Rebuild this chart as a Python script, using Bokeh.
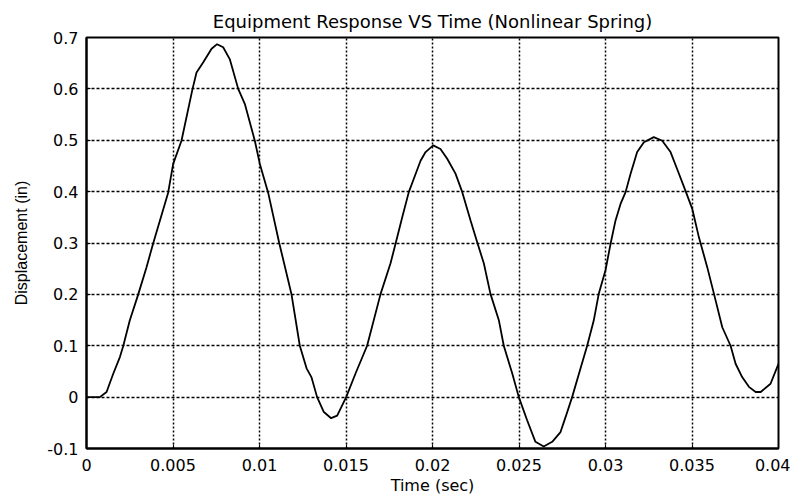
from bokeh.plotting import figure
from bokeh.models import Range1d, FixedTicker
from bokeh.embed import file_html
from bokeh.resources import INLINE

time_sec = [0, 0.00077, 0.00116, 0.00154, 0.00193, 0.00212, 0.0025, 0.00299, 0.00347, 0.00386,
            0.00472, 0.00501, 0.00549, 0.00613, 0.00636, 0.00675, 0.00723, 0.00755, 0.0079, 0.00828,
            0.00877, 0.00915, 0.00973, 0.01002, 0.0105, 0.01114, 0.01166, 0.01185, 0.01233, 0.01272,
            0.013, 0.01333, 0.01372, 0.01414, 0.01449, 0.01501, 0.01555, 0.01622, 0.017, 0.01757,
            0.01786, 0.01825, 0.01863, 0.01892, 0.01931, 0.0196, 0.02004, 0.02046, 0.02085, 0.02133,
            0.02172, 0.0222, 0.02258, 0.02297, 0.02335, 0.02384, 0.02412, 0.02461, 0.02499, 0.02547,
            0.02595, 0.02643, 0.02692, 0.0274, 0.02769, 0.02807, 0.02855, 0.02894, 0.02932, 0.02961,
            0.03, 0.03029, 0.03058, 0.03087, 0.03116, 0.03145, 0.03183, 0.03222, 0.03279, 0.03328,
            0.03376, 0.03414, 0.03462, 0.03501, 0.0354, 0.03588, 0.03627, 0.03675, 0.03723, 0.03752,
            0.0379, 0.03829, 0.03868, 0.03897, 0.03954, 0.04]
displacement_in = [0, 0, 0.01, 0.045, 0.078, 0.099, 0.149, 0.2, 0.253, 0.3,
                   0.398, 0.454, 0.499, 0.6, 0.632, 0.652, 0.678, 0.687, 0.681, 0.658,
                   0.6, 0.571, 0.499, 0.454, 0.398, 0.3, 0.227, 0.2, 0.1, 0.056,
                   0.039, 0, -0.029, -0.041, -0.036, 0, 0.046, 0.1, 0.201, 0.26,
                   0.298, 0.35, 0.399, 0.425, 0.46, 0.477, 0.49, 0.483, 0.464, 0.435,
                   0.399, 0.344, 0.302, 0.26, 0.201, 0.149, 0.1, 0.046, 0, -0.045,
                   -0.087, -0.096, -0.087, -0.068, -0.039, 0, 0.055, 0.1, 0.149, 0.201,
                   0.247, 0.298, 0.344, 0.376, 0.399, 0.435, 0.477, 0.496, 0.506, 0.499,
                   0.477, 0.444, 0.402, 0.367, 0.311, 0.253, 0.201, 0.136, 0.1, 0.065,
                   0.039, 0.02, 0.01, 0.01, 0.026, 0.065]

x_ticks = [0, 0.005, 0.01, 0.015, 0.02, 0.025, 0.03, 0.035, 0.04]
x_tick_labels = ["0", "0.005", "0.01", "0.015", "0.02", "0.025", "0.03", "0.035", "0.04"]
y_ticks = [-0.1, 0, 0.1, 0.2, 0.3, 0.4, 0.5, 0.6, 0.7]
y_tick_labels = ["-0.1", "0", "0.1", "0.2", "0.3", "0.4", "0.5", "0.6", "0.7"]

p = figure(width=790, height=498, output_backend="svg", toolbar_location=None,
           x_range=Range1d(0, 0.04), y_range=Range1d(-0.1, 0.7),
           title="Equipment Response VS Time (Nonlinear Spring)",
           min_border_left=86, min_border_right=12, min_border_top=37, min_border_bottom=50)

p.line(time_sec, displacement_in, line_color="black", line_width=1.8)

p.title.align = "center"
p.title.text_font = "DejaVu Sans"
p.title.text_font_size = "18px"
p.title.text_font_style = "normal"
p.title.text_color = "black"
p.title.standoff = 11

p.xaxis.ticker = FixedTicker(ticks=x_ticks)
p.xaxis.major_label_overrides = {t: l for t, l in zip(x_ticks, x_tick_labels)}
p.yaxis.ticker = FixedTicker(ticks=y_ticks)
p.yaxis.major_label_overrides = {t: l for t, l in zip(y_ticks, y_tick_labels)}

for ax in (p.xaxis, p.yaxis):
    ax.major_label_text_font = "DejaVu Sans"
    ax.major_label_text_font_size = "16px"
    ax.major_label_text_color = "black"
    ax.axis_line_color = "black"
    ax.axis_line_width = 2
    ax.major_tick_in = 4
    ax.major_tick_out = 0
    ax.minor_tick_in = 0
    ax.minor_tick_out = 0
    ax.major_tick_line_color = "black"
    ax.axis_label_text_font_style = "normal"
    ax.axis_label_text_color = "black"

p.xaxis.major_label_standoff = 10
p.yaxis.major_label_standoff = 8

p.xaxis.axis_label = "Time (sec)"
p.xaxis.axis_label_text_font = "DejaVu Sans"
p.xaxis.axis_label_text_font_size = "16px"
p.xaxis.axis_label_standoff = 2

p.yaxis.axis_label = "Displacement (in)"
p.yaxis.axis_label_text_font = "Liberation Sans Narrow, Liberation Sans"
p.yaxis.axis_label_text_font_size = "16px"
p.yaxis.axis_label_standoff = 14

p.xgrid.grid_line_color = "black"
p.xgrid.grid_line_dash = "2 2"
p.xgrid.grid_line_width = 1.5
p.ygrid.grid_line_color = "black"
p.ygrid.grid_line_dash = "3 2"
p.ygrid.grid_line_width = 1.5

p.outline_line_color = "black"
p.outline_line_width = 2
p.background_fill_color = "white"
p.border_fill_color = "white"

open("out.html", "w").write(file_html(p, INLINE))
